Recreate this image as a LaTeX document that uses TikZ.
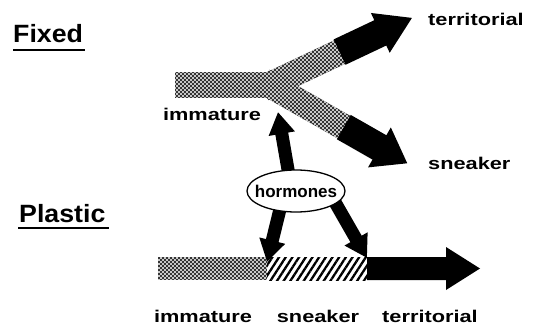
\documentclass[tikz,border=0pt]{standalone}
\usepackage{fontspec}
\setmainfont{Liberation Sans}
\newfontfamily\labfont[FakeStretch=1.28]{Liberation Sans}
\newfontfamily\titfont[FakeStretch=1.07]{Liberation Sans}
\usetikzlibrary{arrows.meta,patterns,patterns.meta,shapes.geometric,calc}
\pgfdeclarelayer{bg}
\pgfsetlayers{bg,main}
\pgfdeclarepatternformonly{stipple}{\pgfpoint{-0.5pt}{-0.5pt}}{\pgfpoint{4.5pt}{4.5pt}}{\pgfpoint{4pt}{4pt}}{%
  \pgfsetlinewidth{0.5pt}%
  \pgfpathcircle{\pgfpoint{1pt}{1pt}}{0.7pt}%
  \pgfpathcircle{\pgfpoint{3pt}{3pt}}{0.7pt}%
  \pgfusepath{stroke}}
\tikzset{
  lab/.style={font=\labfont\bfseries\fontsize{17}{20}\selectfont, inner sep=0pt},
  tit/.style={font=\titfont\bfseries\fontsize{25}{28}\selectfont, inner sep=0pt},
  stip/.style={fill=black!82, postaction={pattern=stipple, pattern color=white}},
  hatch/.style={pattern={Lines[angle=57,distance=5.6pt,line width=2.3pt]}, pattern color=black},
  solid/.style={fill=black},
  fatarrow/.style={line width=13pt, -{Triangle[length=22pt,width=25pt]}}
}
\begin{document}
\begin{tikzpicture}[x=1pt,y=1pt]
\useasboundingbox (0,0) rectangle (537,327);
% titles
\node[tit, anchor=base west] (fixed) at (13,284) {Fixed};
\draw[line width=1.5pt] (13,277) -- (85,277);
\node[tit, anchor=base west] (plastic) at (19,105) {Plastic};
\draw[line width=1.5pt] (18,99) -- (109,99);
% labels
\node[lab, anchor=base] (imm1) at (212,207) {immature};
\node[lab, anchor=base west] (terr1) at (428,301) {territorial};
\node[lab, anchor=base west] (snk1) at (428,158) {sneaker};
\node[lab, anchor=base] (imm2) at (203,5) {immature};
\node[lab, anchor=base] (snk2) at (318,5) {sneaker};
\node[lab, anchor=base] (terr2) at (430,5) {territorial};
% hormones
\node[ellipse, draw, line width=1.3pt, fill=white, minimum width=98pt, minimum height=42pt,
      inner xsep=-8pt, inner ysep=0pt, font=\bfseries\fontsize{17}{20}\selectfont] (horm) at (296,136) {hormones};
\coordinate (J) at (270,242);
\coordinate (tipup) at (278,215);
\coordinate (tipL) at (267,65);
\coordinate (tipR) at (367,69);
\begin{pgfonlayer}{bg}
  % fixed: immature bar
  \path[stip] (175,229) rectangle (272,255);
  % upper branch
  \begin{scope}[shift={(J)}, rotate=25.3]
    \path[stip] (-8,-13) rectangle (78,13);
    \path[solid] (77,-14) -- (122,-14) -- (122,-22) -- (157,0) -- (122,22) -- (122,14) -- (77,14) -- cycle;
  \end{scope}
  % lower branch
  \begin{scope}[shift={(J)}, rotate=-29.7]
    \path[stip] (-8,-13) rectangle (86,13);
    \path[solid] (85,-14) -- (126,-14) -- (126,-23) -- (158,0) -- (126,23) -- (126,14) -- (85,14) -- cycle;
  \end{scope}
  % plastic bar
  \path[stip] (158,47) rectangle (267,70);
  \path[hatch] (267,47) rectangle (368,70);
  \path[solid] (367,47) -- (446,47) -- (446,37) -- (480,58.5) -- (446,80) -- (446,70) -- (367,70) -- cycle;
  % hormone arrows
  \draw[fatarrow] ($(horm.center)+(-6,10)$) -- (tipup);
  \draw[fatarrow] ($(horm.center)+(-14,-10)$) -- (tipL);
  \draw[fatarrow] ($(horm.center)+(36,-6)$) -- (tipR);
\end{pgfonlayer}
\end{tikzpicture}
\end{document}
